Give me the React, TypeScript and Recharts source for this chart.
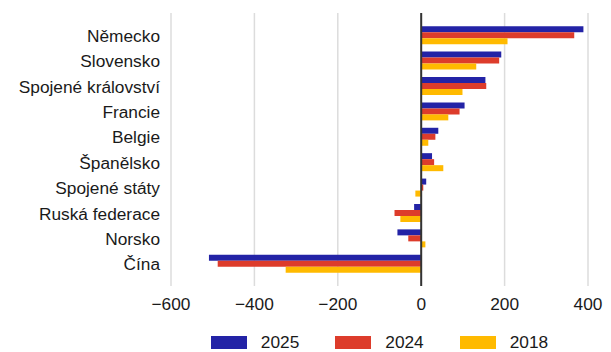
import React from "react";
import {
  BarChart,
  Bar,
  XAxis,
  YAxis,
  CartesianGrid,
  ReferenceLine,
  Legend,
} from "recharts";

// Countries, top to bottom
const countries = [
  "Německo",
  "Slovensko",
  "Spojené království",
  "Francie",
  "Belgie",
  "Španělsko",
  "Spojené státy",
  "Ruská federace",
  "Norsko",
  "Čína",
];

const values2025 = [389, 192, 154, 104, 41, 26, 12, -17, -57, -509];
const values2024 = [367, 187, 156, 92, 34, 31, 5, -64, -31, -488];
const values2018 = [207, 132, 99, 65, 17, 53, -14, -50, 10, -325];

const xTicks = [-600, -400, -200, 0, 200, 400];

const seriesKeys = ["2025", "2024", "2018"];
const seriesColors = ["#2323A6", "#DD3C2B", "#FFBA00"];

const data = countries.map((name, i) => ({
  name,
  "2025": values2025[i],
  "2024": values2024[i],
  "2018": values2018[i],
}));

const FONT = "'Liberation Sans', Arial, sans-serif";
const TEXT = "#1a1a1a";
const FS = 17.3;

const formatTick = (v: number) => (v < 0 ? "\u2212" + Math.abs(v) : String(v));

const LegendContent = () => (
  <div
    style={{
      display: "flex",
      justifyContent: "center",
      paddingLeft: 171,
      paddingRight: 23,
      boxSizing: "border-box",
      width: 611,
      gap: 36,
      fontFamily: FONT,
      fontSize: FS,
      color: TEXT,
    }}
  >
    {seriesKeys.map((k, i) => (
      <div key={k} style={{ display: "flex", alignItems: "center", height: 19 }}>
        <span
          style={{
            display: "inline-block",
            width: 36,
            height: 13,
            background: seriesColors[i],
            marginRight: 14,
          }}
        />
        <span>{k}</span>
      </div>
    ))}
  </div>
);

export default function App() {
  return (
    <div style={{ position: "absolute", left: 0, top: 0, background: "#fff" }}>
      <BarChart
        width={611}
        height={352}
        data={data}
        layout="vertical"
        margin={{ top: 13, right: 23, left: 0, bottom: 36 }}
        barCategoryGap="12.5%"
        barGap={0}
      >
        <CartesianGrid
          horizontal={false}
          vertical={true}
          stroke="#dcdcdc"
          strokeWidth={1.5}
        />
        <XAxis
          type="number"
          domain={[-600, 400]}
          ticks={xTicks}
          tickFormatter={formatTick}
          axisLine={false}
          tickLine={false}
          tickMargin={6}
          height={30}
          tick={{ fill: TEXT, fontSize: FS, fontFamily: FONT }}
        />
        <YAxis
          type="category"
          dataKey="name"
          width={171}
          axisLine={false}
          tickLine={false}
          tickMargin={5}
          interval={0}
          padding={{ top: 10, bottom: 9 }}
          tick={{ fill: TEXT, fontSize: FS, fontFamily: FONT }}
        />
        {seriesKeys.map((k, i) => (
          <Bar
            key={k}
            dataKey={k}
            fill={seriesColors[i]}
            isAnimationActive={false}
          />
        ))}
        <ReferenceLine x={0} stroke="#333" strokeWidth={2} />
        <Legend
          verticalAlign="middle"
          layout="horizontal"
          content={<LegendContent />}
          wrapperStyle={{ left: 0, top: 333, width: 611 }}
        />
      </BarChart>
    </div>
  );
}
